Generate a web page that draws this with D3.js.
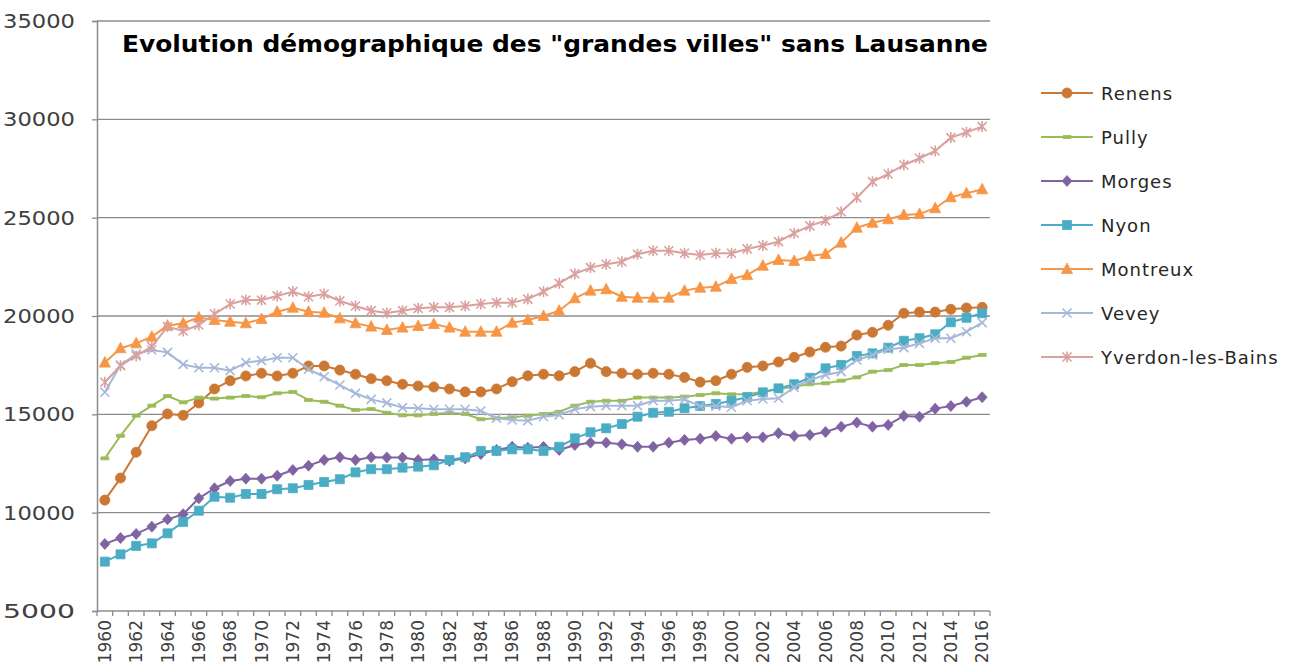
<!DOCTYPE html>
<html>
<head>
<meta charset="utf-8">
<script src="https://cdn.jsdelivr.net/npm/d3@7/dist/d3.min.js"></script>
<style>
html,body{margin:0;padding:0;background:#fff;}
svg{display:block;}
text{font-family:"DejaVu Sans",sans-serif;}
</style>
</head>
<body>
<svg id="chart" width="1293" height="666"></svg>
<script>
const years = [1960,1961,1962,1963,1964,1965,1966,1967,1968,1969,1970,1971,1972,1973,1974,1975,1976,1977,1978,1979,1980,1981,1982,1983,1984,1985,1986,1987,1988,1989,1990,1991,1992,1993,1994,1995,1996,1997,1998,1999,2000,2001,2002,2003,2004,2005,2006,2007,2008,2009,2010,2011,2012,2013,2014,2015,2016];

const renens = [10640,11760,13070,14420,15020,14950,15580,16290,16710,16950,17090,16950,17090,17460,17460,17250,17040,16810,16710,16530,16440,16390,16290,16140,16140,16290,16660,16960,17040,16960,17170,17600,17170,17090,17040,17090,17040,16880,16640,16710,17040,17390,17460,17660,17900,18170,18410,18470,19030,19170,19530,20140,20200,20200,20340,20410,20440];
const pully = [12760,13910,14930,15440,15930,15610,15850,15800,15850,15930,15870,16070,16140,15730,15640,15440,15220,15270,15080,14950,14950,15020,15080,15020,14750,14800,14850,14930,15020,15130,15440,15640,15690,15690,15850,15850,15850,15900,15980,16070,16020,16020,16150,16270,16410,16530,16580,16710,16880,17170,17250,17510,17510,17600,17660,17880,18020];
const morges = [8410,8710,8920,9290,9660,9920,10730,11240,11610,11730,11730,11880,12170,12390,12680,12820,12680,12820,12810,12800,12680,12710,12630,12760,12980,13190,13350,13300,13350,13190,13440,13560,13560,13480,13350,13350,13560,13700,13760,13900,13760,13830,13830,14040,13900,13950,14100,14370,14580,14370,14460,14920,14880,15290,15420,15640,15870];
const nyon = [7510,7880,8310,8440,8950,9530,10100,10810,10760,10950,10950,11190,11240,11410,11560,11700,12050,12210,12210,12290,12340,12410,12680,12820,13140,13140,13220,13220,13140,13350,13780,14090,14290,14510,14880,15080,15130,15310,15420,15530,15690,15870,16120,16320,16530,16860,17340,17510,17970,18100,18390,18740,18870,19070,19680,19910,20140];
const montreux = [17630,18360,18610,18950,19510,19630,19930,19800,19710,19630,19850,20220,20420,20220,20170,19880,19630,19460,19290,19410,19490,19590,19410,19200,19200,19200,19660,19800,20000,20270,20900,21290,21360,20980,20930,20930,20930,21290,21440,21490,21880,22080,22560,22850,22800,23050,23150,23730,24490,24740,24920,25140,25190,25480,26040,26240,26440];
const vevey = [16120,17510,18070,18270,18150,17540,17370,17370,17220,17630,17730,17880,17880,17290,16910,16490,16070,15760,15580,15340,15310,15260,15260,15260,15170,14800,14710,14680,14880,14970,15260,15390,15440,15440,15440,15690,15690,15760,15420,15420,15360,15690,15780,15820,16370,16750,17000,17170,17760,18020,18310,18390,18610,18870,18870,19200,19660];
const yverdon = [16630,17470,17970,18440,19460,19240,19540,20100,20610,20810,20810,21020,21240,20980,21120,20760,20510,20270,20150,20270,20390,20440,20440,20510,20610,20680,20680,20860,21240,21660,22140,22460,22630,22760,23140,23320,23320,23190,23100,23190,23190,23410,23580,23780,24210,24580,24850,25300,26020,26830,27220,27680,28020,28390,29070,29340,29630];

const seriesNames = ["Renens","Pully","Morges","Nyon","Montreux","Vevey","Yverdon-les-Bains"];
const seriesValues = [renens,pully,morges,nyon,montreux,vevey,yverdon];
const seriesColors = ["#CB7834","#9BBB59","#8064A2","#4BACC6","#F79646","#A6B8D8","#D9A09E"];
const seriesMarkers = ["circle","dash","diamond","square","triangle","x","star"];

const yTicks = [5000,10000,15000,20000,25000,30000,35000];
const xLabelYears = years.filter((y,i)=> i % 2 === 0);
const title = "Evolution démographique des \"grandes villes\" sans Lausanne";

const svg = d3.select("#chart");
const plot = {left:97, right:990, top:21, bottom:611};

const x = d3.scaleBand().domain(years).range([plot.left, plot.right]).padding(0);
const y = d3.scaleLinear().domain([5000,35000]).range([plot.bottom, plot.top]);
const cx = d => x(d) + x.bandwidth()/2;

// gridlines
svg.append("g").selectAll("line").data(yTicks.filter(t=>t!==5000)).join("line")
  .attr("x1", plot.left).attr("x2", plot.right)
  .attr("y1", d=>y(d)).attr("y2", d=>y(d))
  .attr("stroke","#8C8C8C").attr("stroke-width",1.3);

// y axis
const yAxis = d3.axisLeft(y).tickValues(yTicks).tickSize(5).tickPadding(17).tickFormat(d3.format("d"));
const gy = svg.append("g").attr("transform",`translate(${plot.left},0)`).call(yAxis);
gy.select(".domain").attr("stroke","#8C8C8C").attr("stroke-width",1.5);
gy.selectAll(".tick line").attr("stroke","#8C8C8C").attr("stroke-width",1.3);
gy.selectAll(".tick text").attr("font-family","DejaVu Sans").attr("font-size",20).attr("fill","#404040")
  .attr("textLength",72).attr("lengthAdjust","spacingAndGlyphs");

// x axis
const gx = svg.append("g").attr("transform",`translate(0,${plot.bottom})`);
gx.append("line").attr("x1",plot.left).attr("x2",plot.right).attr("y1",0).attr("y2",0)
  .attr("stroke","#8C8C8C").attr("stroke-width",1.5);
const tickPos = years.map(d=>x(d)).concat([x(years[years.length-1])+x.bandwidth()]);
gx.selectAll("line.tk").data(tickPos).join("line").attr("class","tk")
  .attr("x1",d=>d).attr("x2",d=>d).attr("y1",0).attr("y2",5)
  .attr("stroke","#8C8C8C").attr("stroke-width",1.3);
gx.selectAll("text").data(xLabelYears).join("text")
  .attr("transform",d=>`translate(${cx(d)+6},9) rotate(-90)`)
  .attr("text-anchor","end")
  .attr("font-size",17).attr("fill","#404040")
  .text(d=>d);

// markers
function markerPath(type){
  switch(type){
    case "circle": return d3.symbol(d3.symbolCircle, 80)();
    case "square": return "M-4.5,-4.5H4.5V4.5H-4.5Z";
    case "diamond": return "M0,-5.5L5,0L0,5.5L-5,0Z";
    case "triangle": return "M0,-6L5.5,4.5L-5.5,4.5Z";
    case "dash": return "M-4,-1.5H4V1.5H-4Z";
    case "x": return "M-4.5,-4.5L4.5,4.5M-4.5,4.5L4.5,-4.5";
    case "star": return "M-4.5,-4.5L4.5,4.5M-4.5,4.5L4.5,-4.5M0,-5.5V5.5";
  }
}
function drawMarker(g, type, color){
  const p = g.append("path").attr("d", markerPath(type));
  if(type==="x"||type==="star"){
    p.attr("fill","none").attr("stroke",color).attr("stroke-width",1.6);
  } else {
    p.attr("fill",color).attr("stroke",color).attr("stroke-width",0.8);
  }
}

const line = d3.line().x((d,i)=>cx(years[i])).y(d=>y(d));

seriesValues.forEach((vals,si)=>{
  const g = svg.append("g");
  g.append("path").datum(vals).attr("d",line).attr("fill","none")
    .attr("stroke",seriesColors[si]).attr("stroke-width",2).attr("stroke-linejoin","round");
  vals.forEach((v,i)=>{
    const mg = g.append("g").attr("transform",`translate(${cx(years[i])},${y(v)})`);
    drawMarker(mg, seriesMarkers[si], seriesColors[si]);
  });
});

// title
svg.append("text").attr("x",122).attr("y",52)
  .attr("font-family","DejaVu Sans").attr("font-weight","bold").attr("font-size",23)
  .attr("fill","#000").attr("textLength",866).attr("lengthAdjust","spacingAndGlyphs")
  .text(title);

// legend
const legend = svg.append("g");
seriesNames.forEach((n,i)=>{
  const ly = 93 + i*44;
  const lg = legend.append("g").attr("transform",`translate(0,${ly})`);
  lg.append("line").attr("x1",1041).attr("x2",1093).attr("y1",0).attr("y2",0)
    .attr("stroke",seriesColors[i]).attr("stroke-width",2);
  const mg = lg.append("g").attr("transform","translate(1067,0)");
  drawMarker(mg, seriesMarkers[i], seriesColors[i]);
  lg.append("text").attr("x",1101).attr("y",6.5).attr("font-size",18).attr("letter-spacing",1)
    .attr("fill","#262626").text(n);
});
</script>
</body>
</html>
